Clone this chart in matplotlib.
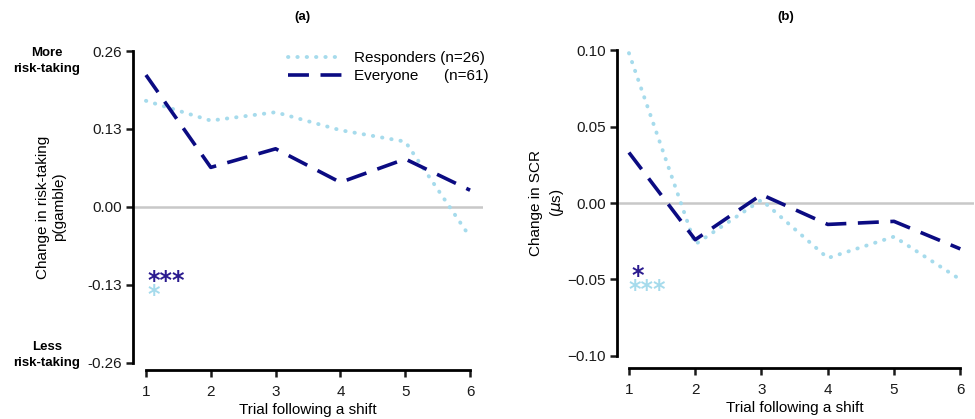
import numpy as np
import matplotlib
matplotlib.use("Agg")
from matplotlib import pyplot as plt

plt.rcParams['font.family'] = ['Liberation Sans', 'DejaVu Sans']

trials = [1, 2, 3, 4, 5, 6]

# (a) change in p(gamble) after a shift
riskResponders = [0.177, 0.144, 0.158, 0.128, 0.109, -0.050]
riskEveryone = [0.220, 0.066, 0.097, 0.041, 0.080, 0.028]
riskTicks = [-0.26, -0.13, 0.00, 0.13, 0.26]
riskTickLabels = ["-0.26", "-0.13", "0.00", "0.13", "0.26"]

# (b) change in SCR after a shift
scrResponders = [0.098, -0.027, 0.002, -0.036, -0.022, -0.050]
scrEveryone = [0.033, -0.024, 0.0055, -0.014, -0.012, -0.030]
scrTicks = [-0.10, -0.05, 0.00, 0.05, 0.10]
scrTickLabels = ["\u22120.10", "\u22120.05", "0.00", "0.05", "0.10"]

lightBlue = "#a6dbec"
navy = "#0b0b82"
starNavy = "#2b1b8f"


def styleAxes(ax, ticks, labels, yBound):
    """
    styleAxes(ax, ticks, labels, yBound)

    Gives the axes R-like detached spines bounded by the tick range
    """
    for side in ["top", "right"]:
        ax.spines[side].set_visible(False)
    ax.spines["left"].set_bounds(-yBound, yBound)
    ax.spines["bottom"].set_bounds(1, 6)
    ax.spines["left"].set_linewidth(2.0)
    ax.spines["bottom"].set_linewidth(2.0)
    ax.set_yticks(ticks)
    ax.set_yticklabels(labels)
    ax.set_xticks(trials)
    ax.tick_params(axis="both", length=5, width=1.8, labelsize=11,
                   colors="#1a1a1a", pad=3)
    ax.tick_params(axis="x", pad=6)
    ax.axhline(0, color="#c8c8c8", lw=1.8, zorder=0)
    ax.set_xlabel("Trial following a shift", fontsize=11, labelpad=3)


def drawLines(ax, responders, everyone):
    ax.plot(trials, responders, color=lightBlue, lw=2.8,
            linestyle=(0, (0.1, 2.3)), dash_capstyle="round",
            label="Responders (n=26)")
    ax.plot(trials, everyone, color=navy, lw=2.6,
            linestyle=(0, (5.8, 3.2)), label="Everyone      (n=61)")


def stars(ax, x, y, text, color):
    # asterisks sit high in the em box, so anchor on the baseline
    ax.text(x, y, text, color=color, fontsize=17, fontweight="bold",
            ha="left", va="baseline", family="DejaVu Sans")


fig = plt.figure(figsize=(9.75, 4.19), dpi=100)

# Panel (a)
axA = fig.add_axes([0.1364, 0.117, 0.359, 0.778])
drawLines(axA, riskResponders, riskEveryone)
styleAxes(axA, riskTicks, riskTickLabels, 0.26)
axA.set_xlim(0.8, 6.2)
axA.set_ylim(-0.2717, 0.2717)
axA.set_ylabel("Change in risk-taking\np(gamble)", fontsize=11, labelpad=15)
stars(axA, 1.02, -0.135, "***", starNavy)
stars(axA, 1.02, -0.159, "*", lightBlue)
axA.legend(loc="upper right", bbox_to_anchor=(1.055, 1.02), frameon=False,
           fontsize=11, handlelength=3.6, handletextpad=0.7,
           labelspacing=0.25)

fig.text(0.048, 0.854, "More\nrisk-taking", fontsize=9.5, fontweight="bold",
         ha="center", va="center", linespacing=1.4)
fig.text(0.048, 0.153, "Less\nrisk-taking", fontsize=9.5, fontweight="bold",
         ha="center", va="center", linespacing=1.4)
fig.text(0.310, 0.959, "(a)", fontsize=9.5, fontweight="bold",
         ha="center", va="center")

# Panel (b)
axB = fig.add_axes([0.6325, 0.122, 0.366, 0.787])
drawLines(axB, scrResponders, scrEveryone)
styleAxes(axB, scrTicks, scrTickLabels, 0.10)
axB.set_xlim(0.815, 6.2)
axB.set_ylim(-0.1078, 0.1078)
axB.set_ylabel("Change in SCR\n($\\mu$s)", fontsize=11, labelpad=1,
               linespacing=1.35)
stars(axB, 1.04, -0.0525, "*", starNavy)
stars(axB, 1.0, -0.0615, "***", lightBlue)
fig.text(0.806, 0.959, "(b)", fontsize=9.5, fontweight="bold",
         ha="center", va="center")

plt.savefig("out.png", dpi=100)
